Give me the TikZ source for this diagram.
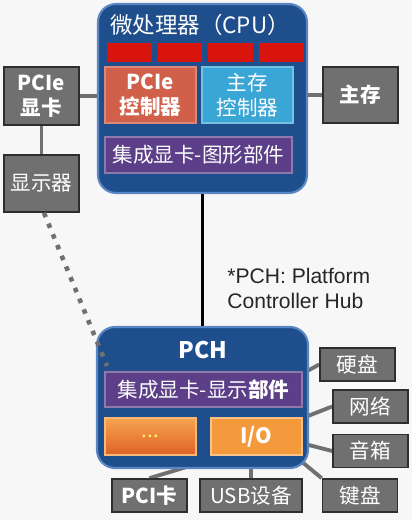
\documentclass[tikz,border=0pt]{standalone}
\usepackage{fontspec}
\setmainfont{Noto Sans CJK SC}
\newfontfamily\notefont{Liberation Sans}
\usepackage{tikz}
\usetikzlibrary{calc,backgrounds}
\definecolor{bgcol}{HTML}{F7F7F7}
\definecolor{chipblue}{HTML}{1F4E8C}
\definecolor{chipedge}{HTML}{5A86C4}
\definecolor{devgray}{HTML}{707070}
\definecolor{devedge}{HTML}{2E2E2E}
\definecolor{corered}{HTML}{D8140C}
\definecolor{ctlred}{HTML}{D0604A}
\definecolor{ctlblue}{HTML}{3AA6D6}
\definecolor{gfxpurple}{HTML}{5C3F88}
\definecolor{ioorange}{HTML}{F59A3C}
\definecolor{wiregray}{HTML}{707070}
\newcommand{\lbl}{\fontsize{11.7}{14}\selectfont}

\begin{document}
\begin{tikzpicture}[x=0.02cm, y=-0.02cm, % 1 unit = 1px
  chip/.style={draw=chipedge, fill=chipblue, line width=1.2pt, rounded corners=0.36cm},
  part/.style={text=white, inner sep=0pt, align=center, font=\lbl, line width=0.8pt},
  dev/.style={draw=devedge, fill=devgray, line width=1pt, minimum width=1.5cm, text=white, inner sep=0pt, align=center, font=\lbl},
  wire/.style={draw=wiregray, line width=2.2pt}]
  \begin{scope}[on background layer]
    \fill[bgcol] (0,0) rectangle (412,520); % background
  \end{scope}

  % CPU
  \node[chip, minimum width=4.18cm, minimum height=3.78cm] (cpu) at (202.5,98.5) {};
  \node[part, font=\fontsize{12.8}{14}\selectfont] (cputitle) at (200,25) {微处理器（CPU）};
  \foreach \i in {0,...,3}
    \node[fill=corered, minimum width=0.9cm, minimum height=0.38cm, inner sep=0pt] (core\i) at (129.5+50.5*\i,52.5) {}; % cores
  \node[part, draw=ctlred!75!white, fill=ctlred, minimum width=1.82cm, minimum height=1.12cm, font=\lbl\bfseries] (pcictl) at (150.5,95) {PCIe\\控制器};
  \node[part, draw=ctlblue!70!white, fill=ctlblue, minimum width=1.82cm, minimum height=1.12cm] (memctl) at (247.5,95) {主存\\控制器};
  \node[part, draw=gfxpurple!70!white, fill=gfxpurple, minimum width=3.74cm, minimum height=0.72cm] (gfx) at (198.5,155) {集成显卡-图形部件};

  % devices around CPU
  \node[dev, minimum height=1.16cm, font=\lbl\bfseries] (pcicard) at (41.5,96) {PCIe\\显卡};
  \node[dev, minimum height=1.14cm] (monitor) at (41.5,183.5) {显示器};
  \node[dev, minimum height=1.12cm, font=\lbl\bfseries] (mem) at (360.5,95) {主存};

  % PCH
  \node[chip, minimum width=4.22cm, minimum height=2.82cm] (pch) at (202.5,397.5) {};
  \node[part, font=\fontsize{13}{15}\selectfont\bfseries] (pchtitle) at (203,350) {PCH};
  \node[part, draw=gfxpurple!70!white, fill=gfxpurple, minimum width=3.94cm, minimum height=0.7cm] (disp) at (203.5,389.5) {集成显卡-显示\textbf{部件}};
  \node[part, draw=ioorange!70!white, top color=ioorange!90!white, bottom color=ioorange!70!red!90!black, minimum width=1.82cm, minimum height=0.74cm, text depth=-0.12cm, text=yellow!60!white] (etc) at (150.5,436.5) {...};
  \node[part, draw=ioorange!60!white, fill=ioorange, minimum width=1.82cm, minimum height=0.74cm, font=\fontsize{12}{14}\selectfont\bfseries] (io) at (256.5,436.5) {I/O};

  % devices around PCH
  \node[dev, minimum height=0.66cm] (hdd) at (357.5,364.5) {硬盘};
  \node[dev, minimum height=0.66cm] (net) at (370.5,406.5) {网络};
  \node[dev, minimum height=0.66cm] (spk) at (370.5,451) {音箱};
  \node[dev, minimum height=0.66cm] (kbd) at (360,495.5) {键盘};
  \node[dev, minimum height=0.66cm, font=\lbl\bfseries] (pci) at (149.5,495.5) {PCI卡};
  \node[dev, minimum height=0.66cm, minimum width=2.04cm] (usb) at (251,495.5) {USB设备};

  \node[anchor=north west, align=left, inner sep=0pt, text=black!85, font=\notefont\fontsize{12}{14.2}\selectfont] (note) at (227,268) {*PCH: Platform\\Controller Hub};

  % connectors
  \coordinate (dotend) at (107,366); % end of the dotted line, on the PCH edge
  \draw[wiregray, line width=2.6pt, dash pattern=on 2.6pt off 4pt] ($(monitor.south)+(2.5,0)$) -- (dotend); % dotted
  \begin{scope}[on background layer]
    \draw[wire] (pcicard.east) -- (pcicard.east -| cpu.west);
    \draw[wire] (mem.west) -- (mem.west -| cpu.east);
    \draw[wire] (pcicard) -- (monitor);
    \draw[black, line width=1.8pt] (cpu.south) -- (pch.north);
    \draw[wire] ($(pch.east)+(-10,-22)$) -- (hdd.west);
    \draw[wire] ($(pch.east)+(-10,22)$) -- (net.west);
    \draw[wire] ($(pch.east)+(-10,45)$) -- (spk.west);
    \draw[wire] (290,452) -- (kbd.north west);
    \draw[wire] (usb.north) -- (usb.north |- pch.south);
    \draw[wire] (pci.north) -- ($(pci.north)+(50,-15)$);
  \end{scope}
\end{tikzpicture}
\end{document}
